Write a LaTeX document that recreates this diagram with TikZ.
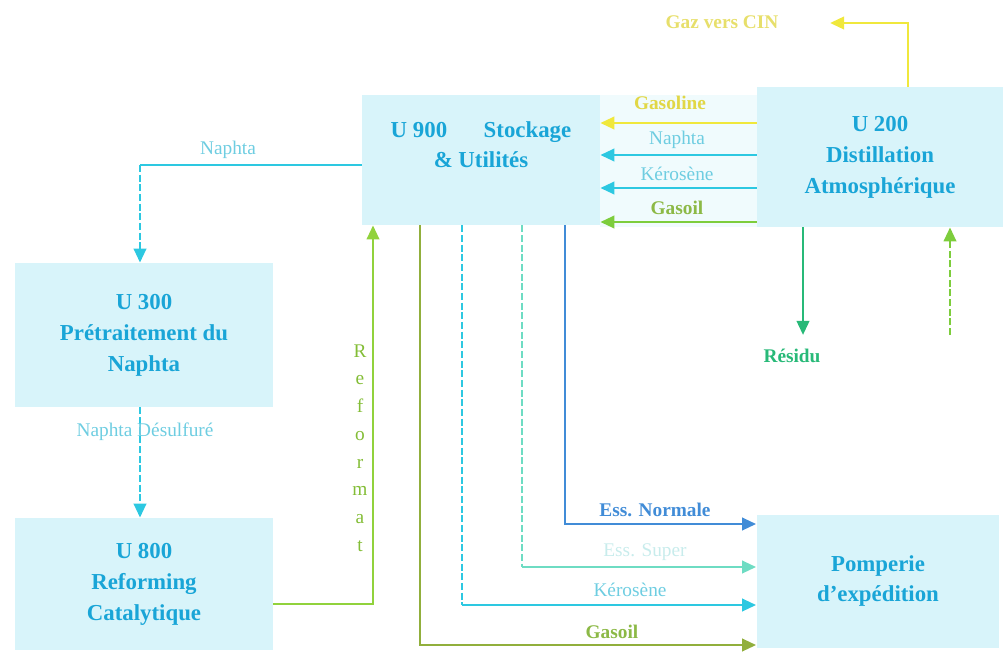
\documentclass[tikz,border=0pt]{standalone}
\usepackage{fontspec}
\setmainfont{Liberation Serif}
\usepackage{tikz}
\usetikzlibrary{arrows.meta,positioning,calc}
\usepackage{xcolor}
\definecolor{myunit}{RGB}{25,165,215}
\definecolor{myboxfill}{RGB}{216,244,250}
\definecolor{mypale}{RGB}{240,251,253}
\definecolor{mygas}{RGB}{240,232,60}
\definecolor{mygastxt}{RGB}{225,215,70}
\definecolor{mynaphta}{RGB}{45,200,225}
\definecolor{mynaphtatxt}{RGB}{110,205,225}
\definecolor{mygasoil}{RGB}{125,205,60}
\definecolor{mygasoiltxt}{RGB}{140,185,70}
\definecolor{myrefo}{RGB}{145,210,60}
\definecolor{myresid}{RGB}{40,185,120}
\definecolor{mynormal}{RGB}{65,140,215}
\definecolor{mysuper}{RGB}{110,220,195}
\definecolor{mysupertxt}{RGB}{200,236,236}
\definecolor{mygasoilb}{RGB}{145,175,60}

\tikzset{
  unitbox/.style={fill=myboxfill,text=myunit,align=center,inner sep=0pt,
    font=\fontsize{13}{17.6}\selectfont\bfseries},
  flow/.style={line width=1.6pt,-{Triangle[length=8pt,width=7pt]}},
  pipe/.style={line width=1.6pt},
  dashpipe/.style={pipe,dash pattern=on 4pt off 1.5pt},
  dashflow/.style={flow,dash pattern=on 4pt off 1.5pt},
  lbl/.style={font=\fontsize{11}{13}\selectfont\bfseries},
  lbllight/.style={font=\fontsize{11}{13}\selectfont}
}

\begin{document}
\begin{tikzpicture}[x=0.02cm,y=-0.02cm]
    \useasboundingbox (0,0) rectangle (1003,656);
    % unites
    \node[unitbox,minimum width=4.76cm,minimum height=2.6cm] (u900) at (481,160)
      {U 900\hspace{1.6em}Stockage\\ \& Utilités\\ \mbox{}};
    \node[unitbox,minimum width=4.92cm,minimum height=2.8cm] (u200) at (880,157)
      {U 200\\ Distillation\\ Atmosphérique};
    \node[unitbox,minimum width=5.16cm,minimum height=2.88cm] (u300) at (144,335)
      {U 300\\ Prétraitement du\\ Naphta};
    \node[unitbox,minimum width=5.16cm,minimum height=2.64cm] (u800) at (144,584)
      {U 800\\ Reforming\\ Catalytique};
    \node[unitbox,minimum width=4.86cm,minimum height=2.66cm] (pomp) at (878,581)
      {Pomperie\\ d'expédition};
    \fill[mypale] (u900.north east) rectangle (u200.south west);

    % U 200 vers U 900
    \draw[flow,mygas] (u200.west |- 0,123) -- (u900.east |- 0,123);
    \draw[flow,mynaphta] (u200.west |- 0,155) -- (u900.east |- 0,155);
    \draw[flow,mynaphta] (u200.west |- 0,188) -- (u900.east |- 0,188);
    \draw[flow,mygasoil] (u200.west |- 0,222) -- (u900.east |- 0,222);
    \node[lbl,text=mygastxt] (lgasoline) at (670,103) {Gasoline};
    \node[lbllight,text=mynaphtatxt] (lnaphta) at (677,140) {Naphta};
    \node[lbllight,text=mynaphtatxt] (lkero) at (677,174) {Kérosène};
    \node[lbl,text=mygasoiltxt] (lgasoil) at (677,208) {Gasoil};

    % gaz
    \coordinate (cin) at (830,23);
    \draw[flow,mygas] (u200.north -| 908,0) |- (cin);
    \node[lbl,text=mygastxt!80] (lcin) at (722,22) {Gaz vers CIN};

    % residu et charge
    \coordinate (resid) at (803,335);
    \draw[flow,myresid] (u200.south -| resid) -- (resid);
    \node[lbl,text=myresid] (lresid) at (792,356) {Résidu};
    \coordinate (feed) at (950,335);
    \draw[dashflow,mygasoil] (feed) -- (u200.south -| feed);

    % naphta vers U 300 puis U 800
    \coordinate (nbend) at (140,165);
    \draw[pipe,mynaphta] (u900.west |- nbend) -- (nbend);
    \draw[dashflow,mynaphta] (nbend) -- (u300.north -| nbend);
    \node[lbllight,text=mynaphtatxt] (lnaph) at (228,150) {Naphta};
    \draw[dashflow,mynaphta] (u300.south -| 140,0) -- (u800.north -| 140,0);
    \node[lbllight,text=mynaphtatxt] (ldesulf) at (145,432) {Naphta Désulfuré};

    % reformat
    \draw[flow,myrefo] (u800.east |- 0,604) -| (u900.south -| 373,0);
    \node[lbllight,text=myrefo!90!black,align=center,
      font=\fontsize{11}{15.8}\selectfont] (lrefo) at (360,448)
      {R\\e\\f\\o\\r\\m\\a\\t};

    % vers la pomperie
    \coordinate (super) at (522,567);
    \coordinate (kero) at (462,605);
    \draw[flow,mynormal] (u900.south -| 565,0) |- (pomp.west |- 0,524);
    \draw[dashpipe,mysuper] (u900.south -| super) -- (super);
    \draw[flow,mysuper] (super) -- (pomp.west |- super);
    \draw[dashpipe,mynaphta] (u900.south -| kero) -- (kero);
    \draw[flow,mynaphta] (kero) -- (pomp.west |- kero);
    \draw[flow,mygasoilb] (u900.south -| 420,0) |- (pomp.west |- 0,645);
    \node[lbl,text=mynormal] (lnormal) at (655,510) {Ess. Normale};
    \node[lbllight,text=mysupertxt] (lsuper) at (645,552) {Ess. Super};
    \node[lbllight,text=mynaphtatxt] (lkerob) at (630,590) {Kérosène};
    \node[lbl,text=mygasoiltxt] (lgasoilb) at (612,632) {Gasoil};
\end{tikzpicture}
\end{document}
